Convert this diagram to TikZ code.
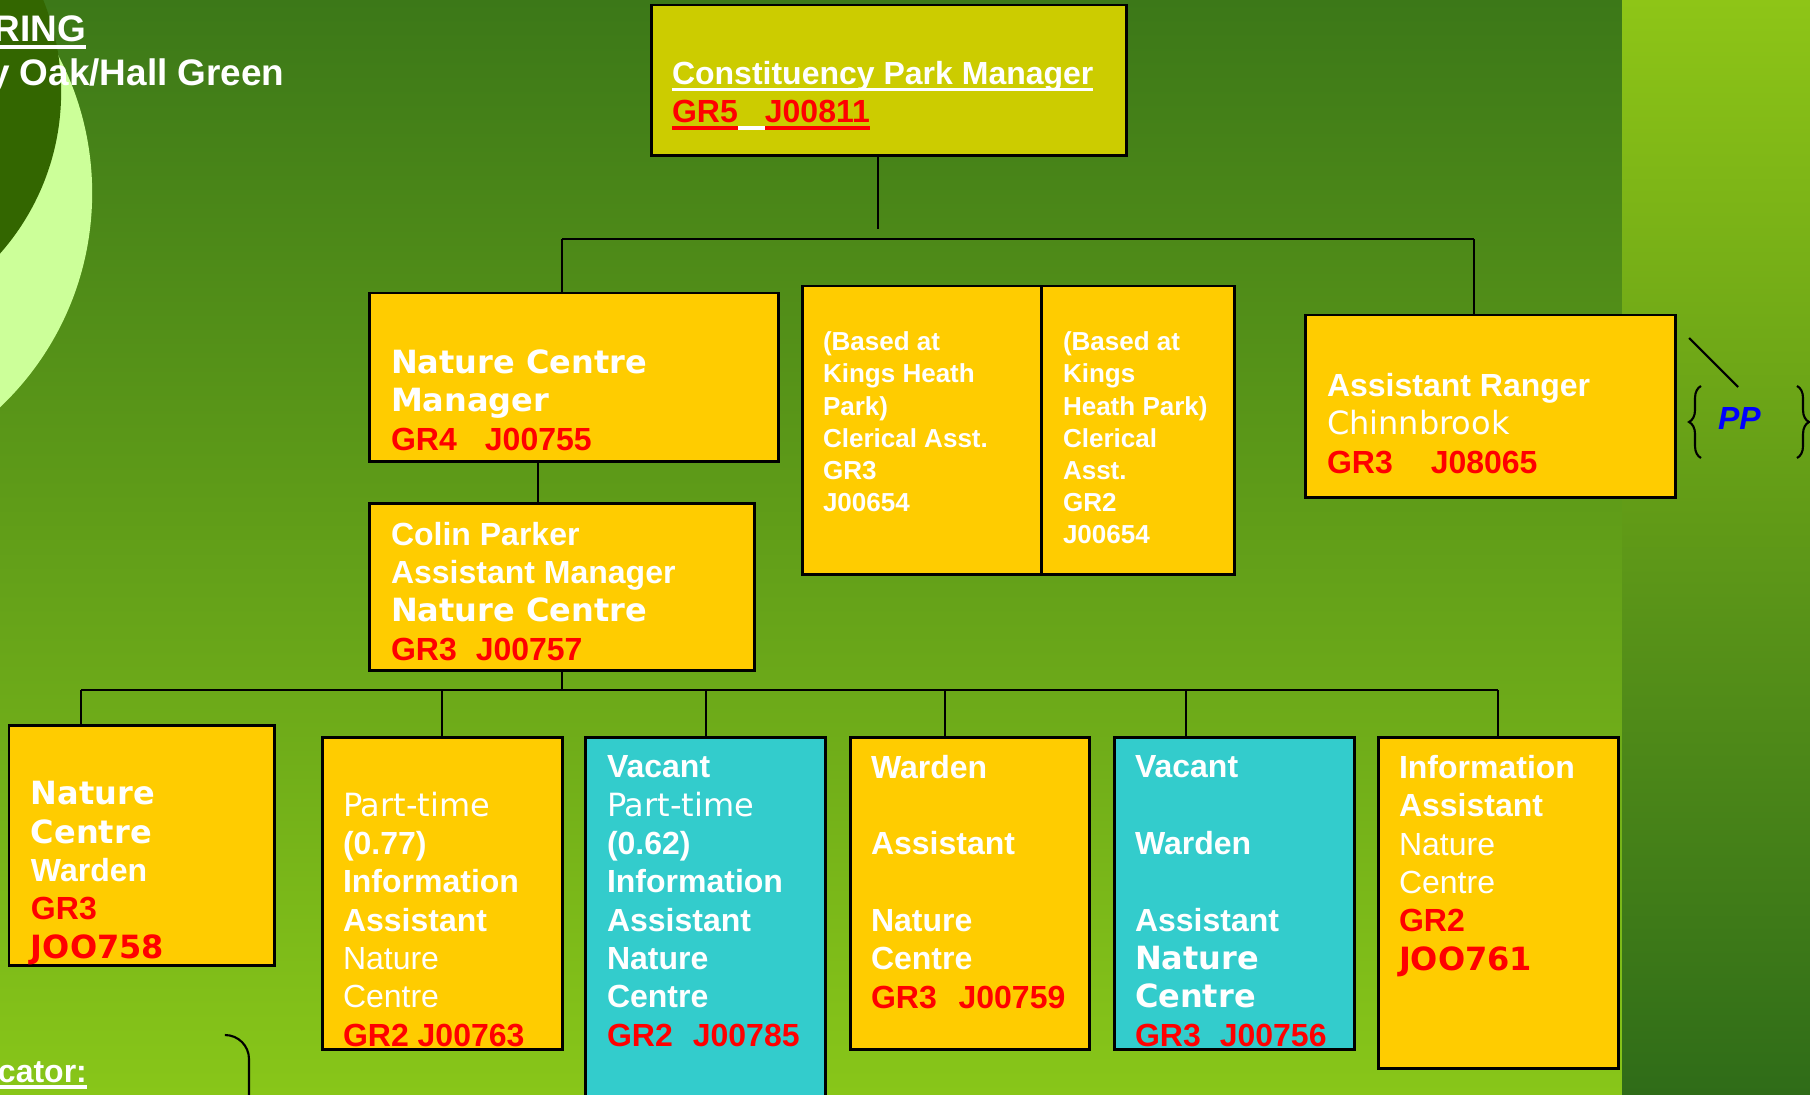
\documentclass[tikz,border=0pt]{standalone}
\usepackage{fontspec}
\setmainfont{Liberation Sans}
\newfontfamily\verd{DejaVu Sans}
\usetikzlibrary{decorations.pathreplacing}

\definecolor{bgtop}{HTML}{3C7818}
\definecolor{bgbot}{HTML}{88C619}
\definecolor{striptop}{HTML}{8EC517}
\definecolor{stripbot}{HTML}{2F6C18}
\definecolor{postyel}{HTML}{FFCC00}
\definecolor{headyel}{HTML}{CCCC00}
\definecolor{vacant}{HTML}{33CCCC}
\definecolor{ringlight}{HTML}{CCFF99}
\definecolor{ringdark}{HTML}{336600}

\newcommand{\arb}{\bfseries\color{white}}
\newcommand{\arr}{\mdseries\color{white}}
\newcommand{\vdb}{\verd\bfseries\color{white}}
\newcommand{\vdr}{\verd\mdseries\color{white}}
\newcommand{\grd}{\bfseries\color{red}}
\newcommand{\vgrd}{\verd\bfseries\color{red}}
\newcommand{\undl}[1]{\leavevmode\setbox0=\hbox{#1}\rlap{\rule[-1.85pt]{\wd0}{0.9pt}}\box0}

\begin{document}
\begin{tikzpicture}[x=0.01cm,y=-0.01cm,inner sep=0pt,outer sep=0pt,
post/.style={draw,line width=0.85pt,fill=postyel,anchor=north west},
txt/.style={anchor=base west,align=left,font=\fontsize{9.1}{10.9}\selectfont},
smalltxt/.style={txt,font=\fontsize{7.4}{9.1}\selectfont},
link/.style={line width=0.6pt}]

\useasboundingbox (0,0) rectangle (1810,1094);
\clip (0,0) rectangle (1810,1094);
\shade[top color=bgtop,bottom color=bgbot] (0,0) rectangle (1622,1094);
\shade[top color=striptop,bottom color=stripbot] (1622,0) rectangle (1810,1094);
\fill[ringlight] (-203,193) circle [radius=2.95cm];
\fill[ringdark] (-183,92) circle [radius=2.44cm];

\node[txt,font=\fontsize{10.5}{12}\selectfont] (ttl) at (-6,42) {\arb\undl{RING}};
\node[txt,font=\fontsize{10.5}{12}\selectfont] (area) at (-11,86) {\arb y Oak/Hall Green};
\node[txt] (key) at (-2,1082) {\arb\undl{cator:}};

\node[post,fill=headyel,minimum width=4.75cm,minimum height=1.50cm] (cpm) at (651,5) {};
\node[txt] (cpmtxt) at (672,123) {{\arb\undl{Constituency Park Manager}}\\{\grd\undl{GR5}{\color{white}\undl{\hspace{7.7pt}}}\undl{J00811}}};

\node[post,minimum width=4.09cm,minimum height=1.68cm] (ncm) at (369,293) {};
\node[txt] (ncmtxt) at (391,450) {{\vdb Nature Centre}\\{\vdb Manager}\\{\grd GR4\hspace{8pt}J00755}};

\node[post,minimum width=3.85cm,minimum height=1.67cm] (colin) at (369,503) {};
\node[txt] (colintxt) at (391,660) {{\arb Colin Parker}\\{\arb Assistant Manager}\\{\vdb Nature Centre}\\{\grd GR3\hspace{5.4pt}J00757}};

\node[post,minimum width=2.39cm,minimum height=2.88cm] (cler1) at (802,286) {};
\node[post,minimum width=1.93cm,minimum height=2.88cm] (cler2) at (1041,286) {};
\node[smalltxt] (cler1txt) at (823,511) {{\arb (Based at}\\{\arb Kings Heath}\\{\arb Park)}\\{\arb Clerical Asst.}\\{\arb GR3}\\{\arb J00654}};
\node[smalltxt] (cler2txt) at (1063,543) {{\arb (Based at}\\{\arb Kings}\\{\arb Heath Park)}\\{\arb Clerical}\\{\arb Asst.}\\{\arb GR2}\\{\arb J00654}};

\node[post,minimum width=3.70cm,minimum height=1.82cm] (ranger) at (1305,315) {};
\node[txt] (rangertxt) at (1327,473) {{\arb Assistant Ranger}\\{\vdr Chinnbrook}\\{\grd GR3\hspace{10.8pt}J08065}};

\node[txt] (pp) at (1718,429) {\color{blue}\bfseries\itshape PP};
\draw[link] (1689,338) -- (1738,387);
\draw[link,decorate,decoration={brace,amplitude=0.12cm}] (1701,458) -- (1701,386);
\draw[link,decorate,decoration={brace,amplitude=0.12cm}] (1797,386) -- (1797,458);

\node[post,minimum width=2.65cm,minimum height=2.40cm] (warden) at (9,725) {};
\node[txt] (wardentxt) at (31,958) {{\vdb Nature}\\{\vdb Centre}\\{\arb Warden}\\{\grd GR3}\\{\vgrd JOO758}};

\node[post,minimum width=2.40cm,minimum height=3.12cm] (info77) at (322,737) {};
\node[txt] (info77txt) at (343,1046) {{\vdr Part-time}\\{\arb (0.77)}\\{\arb Information}\\{\arb Assistant}\\{\arr Nature}\\{\arr Centre}\\{\grd GR2 J00763}};

\node[post,fill=vacant,minimum width=2.40cm,minimum height=3.80cm] (info62) at (585,737) {};
\node[txt] (info62txt) at (607,1046) {{\arb Vacant}\\{\vdr Part-time}\\{\arb (0.62)}\\{\arb Information}\\{\arb Assistant}\\{\arb Nature}\\{\arb Centre}\\{\grd GR2\hspace{5.7pt}J00785}};

\node[post,minimum width=2.39cm,minimum height=3.12cm] (wasst) at (850,737) {};
\node[txt] (wassttxt) at (871,1008) {{\arb Warden}\\{}\\{\arb Assistant}\\{}\\{\arb Nature}\\{\arb Centre}\\{\grd GR3\hspace{6.2pt}J00759}};

\node[post,fill=vacant,minimum width=2.40cm,minimum height=3.12cm] (vwarden) at (1114,737) {};
\node[txt] (vwardentxt) at (1135,1046) {{\arb Vacant}\\{}\\{\arb Warden}\\{}\\{\arb Assistant}\\{\vdb Nature}\\{\vdb Centre}\\{\grd GR3\hspace{5.4pt}J00756}};

\node[post,minimum width=2.40cm,minimum height=3.31cm] (info) at (1378,737) {};
\node[txt] (infotxt) at (1399,970) {{\arb Information}\\{\arb Assistant}\\{\arr Nature}\\{\arr Centre}\\{\grd GR2}\\{\vgrd JOO761}};

\coordinate (cpmfoot) at (878,229);
\coordinate (barl) at (562,239);
\coordinate (barr) at (1474,239);
\coordinate (ncmdrop) at (538,0);
\coordinate (lbarl) at (81,690);
\coordinate (lbarr) at (1498,690);

\draw[link] (cpmfoot |- cpm.south) -- (cpmfoot);
\draw[link] (barl) -- (barr);
\draw[link] (barl) -- (barl |- ncm.north);
\draw[link] (barr) -- (barr |- ranger.north);
\draw[link] (ncmdrop |- ncm.south) -- (ncmdrop |- colin.north);
\draw[link] (colin.south) -- (colin.south |- lbarl);
\draw[link] (lbarl) -- (lbarr);
\foreach \x/\n in {81/warden,442/info77,706/info62,945/wasst,1186/vwarden,1498/info}
  \draw[link] (\x,690) -- (\x,690 |- \n.north);

\draw[link,rounded corners=0.24cm] (225,1035) -- (249,1035) -- (249,1100);
\end{tikzpicture}
\end{document}
